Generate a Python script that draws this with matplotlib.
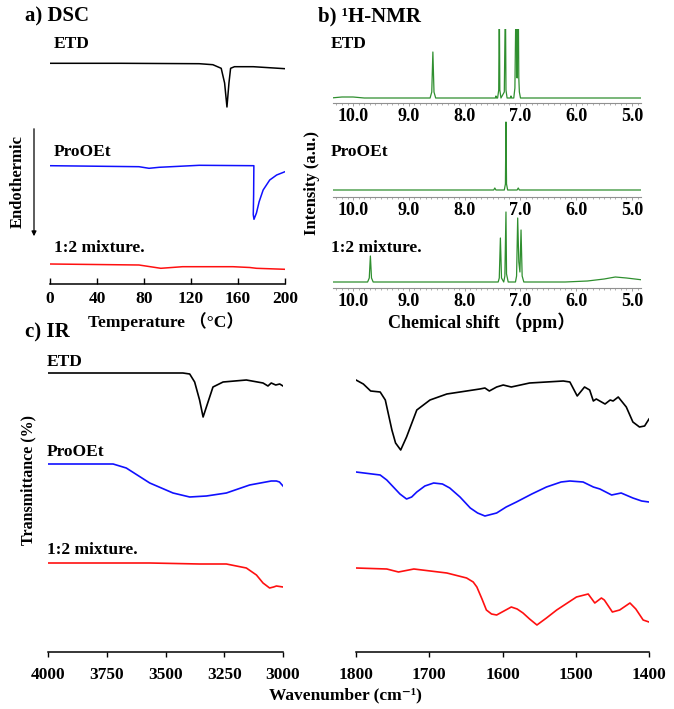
import matplotlib
matplotlib.use("Agg")
import matplotlib.pyplot as plt
import numpy as np

plt.rcParams['font.family'] = ['Liberation Serif', 'Noto Sans CJK SC', 'DejaVu Serif']
plt.rcParams['font.weight'] = 'bold'

W, H = 674, 709

# ---------------- DATA ----------------
series_names = ["ETD", "ProOEt", "1:2 mixture."]
series_colors = ["black", "#1010ff", "#ff1010"]

# DSC: temperature (°C) and relative heat flow (a.u.)
dsc_etd_T = [0, 60, 127, 138.6, 145.7, 148.6, 150.6, 152.3, 153.7, 157, 173, 200]
dsc_etd_hf = [0, 0, -0.04, -0.14, -0.5, -1.97, -4.37, -1.97, -0.5, -0.34, -0.34, -0.54]
dsc_pro_T = [0, 75.7, 84.3, 92.9, 127, 150, 173.5, 173.3, 173.0, 173.6, 175.7, 178, 181.4, 187, 192.9, 200]
dsc_pro_hf = [0, -0.1, -0.26, -0.16, 0.04, 0.02, 0, -2.9, -4.9, -5.36, -4.73, -3.6, -2.43, -1.43, -0.93, -0.6]
dsc_mix_T = [0, 75.7, 81.4, 94.3, 112.9, 155.7, 170, 175.7, 200]
dsc_mix_hf = [0, -0.1, -0.2, -0.43, -0.27, -0.27, -0.35, -0.43, -0.53]
dsc_ticks = [0, 40, 80, 120, 160, 200]

# 1H-NMR: chemical shift (ppm) and intensity (a.u.)
nmr_etd_ppm = [10.4, 10.2, 10.0, 9.8, 8.62, 8.59, 8.57, 8.55, 8.52, 7.45, 7.44, 7.43, 7.41, 7.39, 7.38, 7.37, 7.35,
               7.29, 7.27, 7.26, 7.24, 7.18, 7.17, 7.16, 7.12, 7.10, 7.08, 7.06, 7.05, 7.04, 7.03, 7.02, 7.00, 6.95, 4.8]
nmr_etd_int = [0, 1, 1, 0, 0, 6, 46, 6, 0, 0, 2, 0, 0, 8, 100, 8, 0,
               6, 100, 8, 0, 0, 2, 0, 0, 10, 100, 20, 60, 100, 20, 6, 0, 0, 0]
nmr_pro_ppm = [10.4, 7.48, 7.46, 7.44, 7.29, 7.27, 7.26, 7.25, 7.23, 7.06, 7.04, 7.02, 4.8]
nmr_pro_int = [0, 0, 2, 0, 0, 6, 68, 6, 0, 0, 2, 0, 0]
nmr_mix_ppm = [10.4, 9.74, 9.71, 9.69, 9.67, 9.64, 7.40, 7.38, 7.36, 7.34, 7.30, 7.28, 7.26, 7.25, 7.22,
               7.09, 7.07, 7.05, 7.03, 7.01, 6.99, 6.97, 6.94, 6.2, 5.8, 5.5, 5.3, 5.1, 4.8]
nmr_mix_int = [0, 0, 4, 26, 4, 0, 0, 4, 44, 4, 0, 6, 70, 8, 0,
               0, 6, 64, 20, 10, 52, 6, 0, 0, 1, 3, 5, 4, 2]
nmr_ticks = [10.0, 9.0, 8.0, 7.0, 6.0, 5.0]

# IR: wavenumber (cm-1) and relative transmittance (a.u.)
ir_etd_hi_wn = [4000, 3700, 3426, 3397, 3376, 3355, 3340, 3326, 3298, 3255, 3156, 3085, 3064, 3050, 3031, 3014, 3000]
ir_etd_hi_t = [0, 0, 0, -1, -9, -27, -44, -34, -14, -9, -7, -10, -13, -10, -12, -11, -13]
ir_etd_lo_wn = [1800, 1790, 1780, 1767, 1760, 1751, 1746, 1739, 1731, 1717, 1699, 1676, 1631, 1624, 1618, 1608,
                1599, 1588, 1563, 1517, 1508, 1498, 1488, 1481, 1476, 1472, 1460, 1453, 1449, 1442, 1431, 1422,
                1413, 1406, 1400]
ir_etd_lo_t = [-7, -11, -18, -19, -27, -57, -70, -77, -64, -37, -27, -21, -16, -15, -18, -14,
               -12, -14, -10, -8, -9, -23, -14, -17, -28, -26, -31, -27, -28, -24, -34, -49,
               -54, -53, -46]
ir_pro_hi_wn = [4000, 3723, 3667, 3567, 3468, 3397, 3326, 3241, 3142, 3050, 3028, 3015, 3000]
ir_pro_hi_t = [0, 0, -4, -19, -29, -33, -32, -29, -21, -17, -17, -18, -22]
ir_pro_lo_wn = [1800, 1767, 1758, 1749, 1740, 1731, 1724, 1717, 1706, 1694, 1682, 1672, 1658, 1644, 1634, 1624,
                1608, 1595, 1581, 1560, 1540, 1520, 1508, 1490, 1476, 1467, 1451, 1438, 1422, 1410, 1400]
ir_pro_lo_t = [-8, -11, -16, -23, -30, -35, -33, -28, -22, -19, -20, -24, -33, -44, -49, -52,
               -49, -43, -38, -30, -23, -18, -17, -18, -23, -25, -31, -29, -34, -37, -38]
ir_mix_hi_wn = [4000, 3567, 3355, 3241, 3156, 3113, 3085, 3057, 3040, 3028, 3000]
ir_mix_hi_t = [0, 0, -1, -1, -5, -12, -20, -25, -24, -23, -24]
ir_mix_lo_wn = [1800, 1758, 1742, 1721, 1676, 1649, 1640, 1635, 1628, 1622, 1615, 1608, 1598, 1588, 1580, 1572,
                1563, 1553, 1540, 1526, 1499, 1483, 1474, 1465, 1461, 1450, 1440, 1426, 1418, 1408, 1400]
ir_mix_lo_t = [-5, -6, -9, -6, -10, -15, -19, -24, -36, -47, -51, -52, -48, -44, -46, -50,
               -56, -62, -55, -47, -34, -31, -40, -35, -37, -49, -47, -40, -46, -57, -59]
ir_hi_ticks = [4000, 3750, 3500, 3250, 3000]
ir_lo_ticks = [1800, 1700, 1600, 1500, 1400]

# ---------------- LAYOUT ----------------
def rect(l, t, r, b):
    return [l / W, 1 - b / H, (r - l) / W, (b - t) / H]

def fx(x):
    return x / W

def fy(y):
    return 1 - y / H

fig = plt.figure(figsize=(W / 100, H / 100), dpi=100)

def clean(ax):
    for s in ['top', 'left', 'right']:
        ax.spines[s].set_visible(False)
    ax.set_yticks([])
    ax.patch.set_alpha(0)

FS = 12.5
TFS = 15

# ---- DSC ----
ax = fig.add_axes(rect(50, 35, 285, 284))
clean(ax)
dsc_offsets = [0, -10.24, -20.07]
for (T, hf), c, off in zip([(dsc_etd_T, dsc_etd_hf), (dsc_pro_T, dsc_pro_hf), (dsc_mix_T, dsc_mix_hf)],
                           series_colors, dsc_offsets):
    ax.plot(T, np.array(hf) + off, color=c, lw=1.1)
ax.set_xlim(0, 200)
ax.set_ylim(-22.07, 2.83)
ax.set_xticks(dsc_ticks)
ax.tick_params(axis='x', direction='in', length=4, width=1, labelsize=FS, pad=5)
ax.spines['bottom'].set_linewidth(1.1)
fig.text(fx(25), fy(16), "a) DSC", fontsize=TFS, fontweight='bold', va='center', ha='left')
for name, y in zip(series_names, [44, 152, 248]):
    fig.text(fx(54), fy(y), name, fontsize=FS, fontweight='bold', va='center', ha='left')
fig.text(fx(166), fy(322), "Temperature （°C）", fontsize=FS, fontweight='bold', va='center', ha='center')
fig.text(fx(18), fy(182), "Endothermic", fontsize=12, fontweight='bold', va='center', ha='center',
         rotation=90)
fig.add_artist(matplotlib.patches.FancyArrowPatch((fx(34), fy(126)), (fx(34), fy(239)),
                                                  transform=fig.transFigure, arrowstyle='-|>',
                                                  mutation_scale=7, lw=0.9, color='black'))

# ---- NMR ----
green = '#2f8f2f'
nmr_rects = [(333, 29, 641, 103), (333, 112, 641, 197), (333, 205, 641, 288)]
nmr_ylims = [(-5, 69), (-7, 78), (-6, 77)]
nmr_data = [(nmr_etd_ppm, nmr_etd_int), (nmr_pro_ppm, nmr_pro_int), (nmr_mix_ppm, nmr_mix_int)]
for r, yl, (p, I) in zip(nmr_rects, nmr_ylims, nmr_data):
    ax = fig.add_axes(rect(*r))
    clean(ax)
    ax.plot(p, I, color=green, lw=0.9)
    ax.set_xlim(10.36, 4.84)
    ax.set_ylim(*yl)
    ax.set_xticks(nmr_ticks)
    ax.set_xticklabels(["%.1f" % t for t in nmr_ticks])
    ax.set_xticks(np.arange(4.9, 10.4, 0.1), minor=True)
    ax.spines['bottom'].set_color('#909090')
    ax.spines['bottom'].set_linewidth(0.8)
    ax.tick_params(axis='x', which='major', direction='out', length=2.5, width=0.6, color='#909090',
                   labelsize=13, pad=1)
    ax.tick_params(axis='x', which='minor', direction='out', length=1.5, width=0.5, color='#909090')
fig.text(fx(318), fy(16), "b) ¹H-NMR", fontsize=TFS, fontweight='bold', va='center', ha='left')
for name, y in zip(series_names, [44, 152, 248]):
    fig.text(fx(331), fy(y), name, fontsize=FS, fontweight='bold', va='center', ha='left')
fig.text(fx(482), fy(322), "Chemical shift （ppm）", fontsize=13, fontweight='bold', va='center',
         ha='center')
fig.text(fx(312), fy(183), "Intensity (a.u.)", fontsize=12, fontweight='bold', va='center', ha='center',
         rotation=90)

# ---- IR ----
ir_offsets = [279, 188, 89]
axL = fig.add_axes(rect(48, 345, 283, 652))
axR = fig.add_axes(rect(356, 345, 649, 652))
hi = [(ir_etd_hi_wn, ir_etd_hi_t), (ir_pro_hi_wn, ir_pro_hi_t), (ir_mix_hi_wn, ir_mix_hi_t)]
lo = [(ir_etd_lo_wn, ir_etd_lo_t), (ir_pro_lo_wn, ir_pro_lo_t), (ir_mix_lo_wn, ir_mix_lo_t)]
for ax, data, xl, ticks in [(axL, hi, (4000, 3000), ir_hi_ticks), (axR, lo, (1800, 1400), ir_lo_ticks)]:
    clean(ax)
    for (wn, t), c, off in zip(data, series_colors, ir_offsets):
        ax.plot(wn, np.array(t) + off, color=c, lw=1.2)
    ax.set_xlim(*xl)
    ax.set_ylim(0, 307)
    ax.set_xticks(ticks)
    ax.tick_params(axis='x', direction='out', length=3.5, width=1, labelsize=FS, pad=7)
    ax.spines['bottom'].set_linewidth(1.1)
fig.text(fx(25), fy(332), "c) IR", fontsize=TFS, fontweight='bold', va='center', ha='left')
for name, y in zip(series_names, [362, 452, 550]):
    fig.text(fx(47), fy(y), name, fontsize=FS, fontweight='bold', va='center', ha='left')
fig.text(fx(345), fy(695), "Wavenumber (cm⁻¹)", fontsize=FS, fontweight='bold', va='center', ha='center')
fig.text(fx(28), fy(480), "Transmittance (%)", fontsize=11.5, fontweight='bold', va='center', ha='center',
         rotation=90)

fig.savefig("out.png", dpi=100)
